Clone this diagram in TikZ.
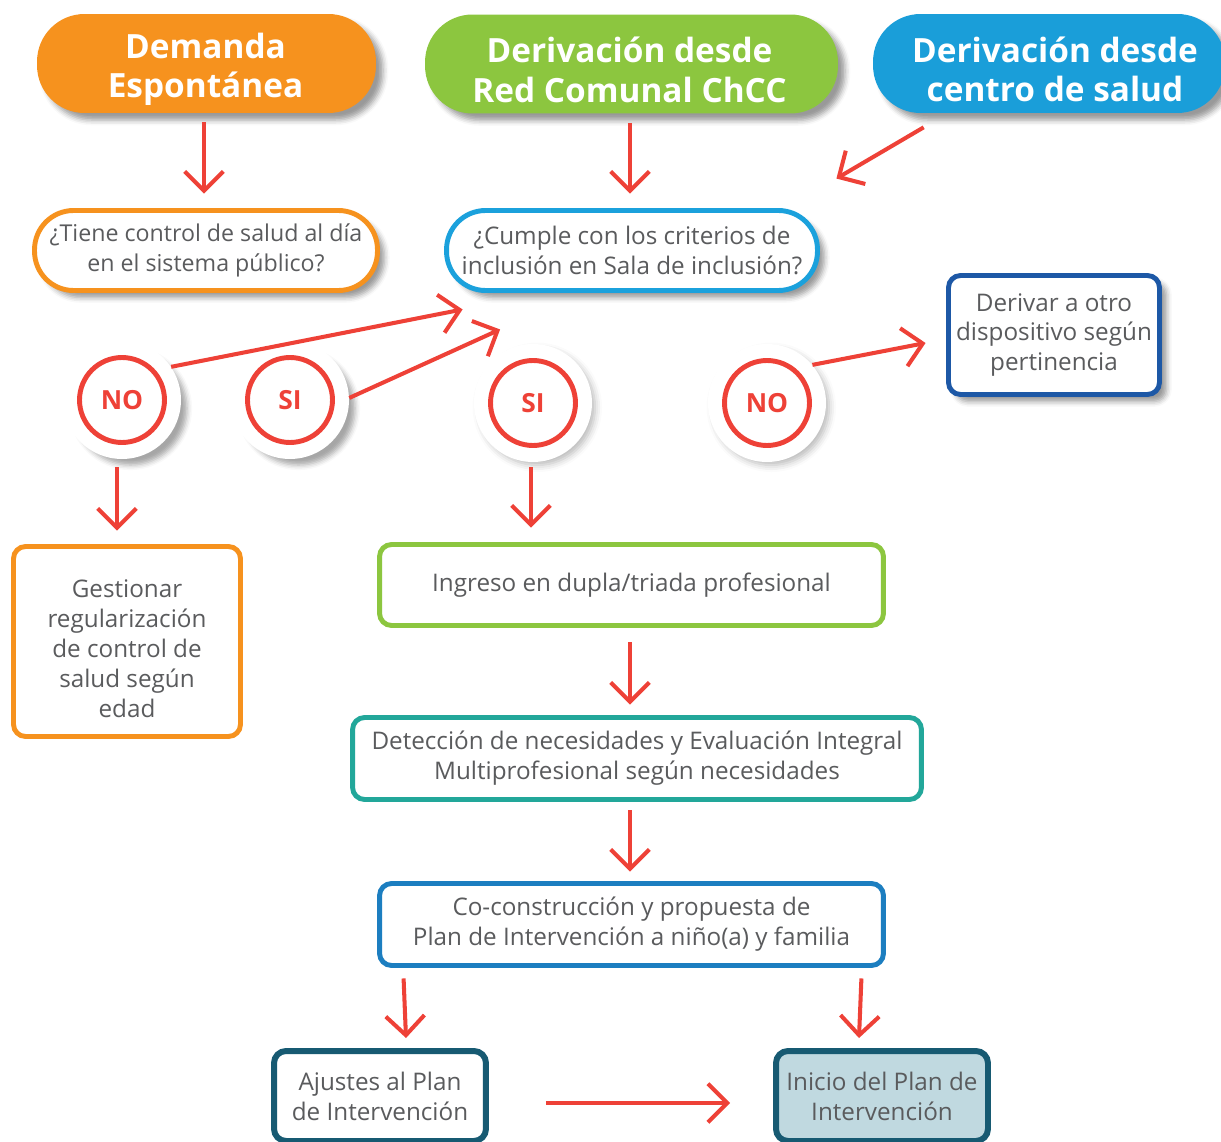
\documentclass[tikz,border=0pt]{standalone}
\usepackage{fontspec}
\setmainfont{Open Sans}
\usetikzlibrary{arrows.meta,calc,shadows.blur}
\definecolor{corange}{HTML}{F6921E}
\definecolor{cgreen}{HTML}{8CC63F}
\definecolor{cblue}{HTML}{1A9ED9}
\definecolor{cblueq}{HTML}{1BA1DC}
\definecolor{cnavy}{HTML}{1D58A6}
\definecolor{cteal}{HTML}{22A79A}
\definecolor{cbluec}{HTML}{1C7EC0}
\definecolor{cdark}{HTML}{175A72}
\definecolor{cfill}{HTML}{C0D9E0}
\definecolor{cred}{HTML}{EE4137}
\definecolor{ctext}{HTML}{5A5B5D}
\definecolor{cglow}{HTML}{CDE4F4}
\pgfdeclareradialshading{ringglow}{\pgfpoint{0bp}{0bp}}{color(0bp)=(white); color(30bp)=(white); color(50bp)=(cglow)}
\newcommand\headfont{\fontsize{19}{22.5}\selectfont\bfseries}
\newcommand\bodyfont{\fontsize{13.8}{17}\selectfont}
\newcommand\smallbodyfont{\fontsize{13.2}{17}\selectfont}
\newcommand\ringfont{\fontsize{15}{17}\selectfont\bfseries}
\begin{document}
\begin{tikzpicture}[x=0.02cm,y=-0.02cm,
  shd/.style={blur shadow={shadow xshift=4pt, shadow yshift=-4pt, shadow opacity=40, shadow blur radius=3pt}},
  head/.style={rectangle, rounded corners=0.95cm, minimum height=1.98cm, inner sep=0pt, shd},
  headtext/.style={text=white, font=\headfont, align=center, inner sep=0pt},
  box/.style={rectangle, rounded corners=0.24cm, draw, line width=2.8pt, fill=white, text=ctext, font=\bodyfont, align=center, inner sep=0pt},
  boxtext/.style={text=ctext, font=\bodyfont, align=center, inner sep=0pt},
  qbox/.style={box, rounded corners=0.78cm, minimum height=1.6cm, shd},
  halo/.style={circle, fill=white, minimum size=2.36cm, inner sep=0pt},
  sideshd/.style={blur shadow={shadow xshift=5pt, shadow yshift=-5pt, shadow scale=0.96, shadow opacity=35, shadow blur radius=3pt}},
  midshd/.style={blur shadow={shadow xshift=2.5pt, shadow yshift=-2.5pt, shadow scale=0.98, shadow opacity=28, shadow blur radius=4pt}},
  ring/.style={circle, draw=cred, line width=2.8pt, shade, shading=ringglow, minimum size=1.7cm, inner sep=0pt, text=cred, font=\ringfont},
  arr/.style={draw=cred, line width=2.3pt, -{Straight Barb[length=11pt, width=22pt]}}
]
\useasboundingbox (0,0) rectangle (1221,1142);

% top headers
\node[head, fill=corange, minimum width=6.78cm] (dem) at (206.5,63.5) {};
\node[headtext] (demt) at ($(dem.center)+(-1,6)$) {Demanda\\Espontánea};
\node[head, fill=cgreen, minimum width=8.26cm] (chcc) at (631.5,64) {};
\node[headtext] (chcct) at ($(chcc.center)+(-2,6)$) {Derivación desde\\Red Comunal ChCC};
\node[head, fill=cblue, minimum width=7.04cm] (cen) at (1049,63.5) {};
\node[headtext] (cent) at ($(cen.center)+(6,6)$) {Derivación desde\\centro de salud};

% questions
\node[qbox, draw=corange, minimum width=6.86cm, font=\smallbodyfont] (tiene) at (206,250.5) {¿Tiene control de salud al día\\en el sistema público?};
\node[qbox, draw=cblueq, minimum width=7.42cm] (cumple) at (632,250.5) {¿Cumple con los criterios de\\inclusión en Sala de inclusión?};
\node[box, draw=cnavy, minimum width=4.22cm, minimum height=2.38cm, shd] (derivar) at (1054,335) {Derivar a otro\\dispositivo según\\pertinencia};

% circles
\node[halo, sideshd] (no1h) at (122,400) {};
\node[ring] (no1) at (no1h) {NO};
\node[halo, sideshd] (si1h) at (290,400) {};
\node[ring] (si1) at (si1h) {SI};
\node[halo, midshd] (si2h) at (533,403) {};
\node[ring] (si2) at (si2h) {SI};
\node[halo, midshd] (no2h) at (767,403) {};
\node[ring] (no2) at (no2h) {NO};

% process boxes
\node[box, draw=corange, minimum width=4.54cm, minimum height=3.8cm] (gest) at (127,641.5) {};
\node[boxtext] (gestt) at ($(gest.center)+(0,7)$) {Gestionar\\regularización\\de control de\\salud según\\edad};
\node[box, draw=cgreen, minimum width=10.08cm, minimum height=1.62cm] (ingreso) at (631.5,585) {Ingreso en dupla/triada profesional};
\node[box, draw=cteal, minimum width=11.38cm, minimum height=1.64cm] (detec) at (637,758.5) {Detección de necesidades y Evaluación Integral\\Multiprofesional según necesidades};
\node[box, draw=cbluec, minimum width=10.08cm, minimum height=1.64cm] (coc) at (631.5,924.5) {Co-construcción y propuesta de\\Plan de Intervención a niño(a) y familia};
\node[box, draw=cdark, line width=3.4pt, minimum width=4.24cm, minimum height=1.8cm] (ajus) at (380,1096) {Ajustes al Plan\\de Intervención};
\node[box, draw=cdark, fill=cfill, line width=3.4pt, minimum width=4.24cm, minimum height=1.8cm] (ini) at (882,1096) {Inicio del Plan de\\Intervención};

% connectors
\draw[arr] ($(dem.south)+(-2.5,9)$) -- ($(tiene.north)+(-2,-14.5)$);
\draw[arr] ($(chcc.south)+(-1.5,9)$) -- ($(cumple.north)+(-2,-14.5)$);
\coordinate (c3s) at ($(cen.south west)+(51,14)$);
\coordinate (c3e) at ($(cumple.north east)+(16.5,-29.5)$);
\draw[arr] (c3s) -- (c3e);
\coordinate (t4) at ($(cumple.south west)+(18.5,16.5)$);
\draw[arr] (no1h.34) -- (t4);
\coordinate (t5) at ($(cumple.south west)+(56,36.5)$);
\draw[arr] (si1h.2) -- (t5);
\coordinate (t6) at ($(derivar.west)+(-20.5,8)$);
\draw[arr] (no2h.40) -- (t6);
\draw[arr] ($(no1h.south)+(-5,8)$) -- ($(gest.north)+(-10,-13.5)$);
\draw[arr] ($(si2h.south)+(-2,5)$) -- ($(si2h.south |- ingreso.north)+(-2,-14.5)$);
\draw[arr] ($(ingreso.south)+(-1.5,14.5)$) -- ($(detec.north)+(-7,-10.5)$);
\draw[arr] ($(detec.south)+(-7,8.5)$) -- ($(coc.north)+(-1.5,-9.5)$);
\draw[arr] ($(coc.south west)+(26.5,10.5)$) -- ($(ajus.north)+(26,-10)$);
\draw[arr] ($(coc.south east)+(-24.5,10.5)$) -- ($(ini.north)+(-23,-10)$);
\draw[arr] ($(ajus.east)+(57,7)$) -- ($(ini.west)+(-43,7)$);
\end{tikzpicture}
\end{document}
